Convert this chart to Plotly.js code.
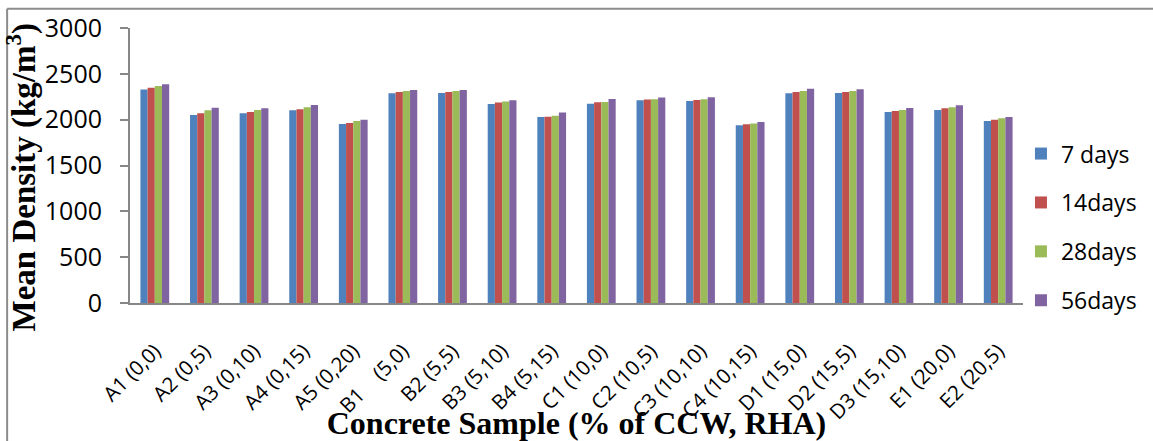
<!DOCTYPE html>
<html>
<head>
<meta charset="utf-8">
<script src="https://cdn.plot.ly/plotly-3.0.1.min.js"></script>
<style>
  html, body { margin: 0; padding: 0; background: #ffffff; }
  #chart { width: 1153px; height: 441px; }
</style>
</head>
<body>
<div id="chart"></div>
<script>
// Concrete samples (% of CCW, RHA)
const samples = [
  "A1 (0,0)", "A2 (0,5)", "A3 (0,10)", "A4 (0,15)", "A5 (0,20)",
  "B1\u00a0\u00a0\u00a0 (5,0)", "B2 (5,5)", "B3 (5,10)", "B4 (5,15)",
  "C1 (10,0)", "C2 (10,5)", "C3 (10,10)", "C4 (10,15)",
  "D1 (15,0)", "D2 (15,5)", "D3 (15,10)", "E1 (20,0)", "E2 (20,5)"
];

// Mean density (kg/m3) at each curing age
const days7  = [2330, 2052, 2070, 2103, 1953, 2289, 2292, 2172, 2030, 2175, 2212, 2205, 1939, 2289, 2292, 2084, 2106, 1986];
const days14 = [2347, 2070, 2084, 2114, 1964, 2303, 2303, 2186, 2033, 2190, 2219, 2215, 1950, 2303, 2303, 2095, 2125, 2000];
const days28 = [2368, 2104, 2106, 2136, 1986, 2314, 2314, 2197, 2044, 2194, 2223, 2223, 1957, 2314, 2314, 2106, 2136, 2015];
const days56 = [2387, 2131, 2125, 2161, 2000, 2325, 2325, 2212, 2077, 2226, 2241, 2245, 1975, 2336, 2332, 2128, 2157, 2030];

const seriesNames = ["7 days", "14days", "28days", "56days"];
const seriesColors = ["#4F81BD", "#C0504D", "#9BBB59", "#8064A2"];
const seriesValues = [days7, days14, days28, days56];

const traces = seriesValues.map((vals, i) => ({
  type: "bar",
  name: seriesNames[i],
  x: samples,
  y: vals,
  legendgroup: "g" + i,
  marker: { color: seriesColors[i], line: { width: 0 } }
}));

const axisGray = "#878787";
const frameGray = "#8c8c8c";

const layout = {
  width: 1153,
  height: 441,
  paper_bgcolor: "#ffffff",
  plot_bgcolor: "#ffffff",
  margin: { l: 130, r: 129, t: 28, b: 138 },
  barmode: "group",
  bargap: 0.42,
  bargroupgap: 0,
  font: { family: "Open Sans, sans-serif", color: "#000000" },
  xaxis: {
    type: "category",
    showline: true,
    linecolor: axisGray,
    linewidth: 2,
    ticks: "",
    showgrid: false,
    zeroline: false,
    tickangle: -45,
    ticklabelstandoff: 26,
    tickfont: { family: "Open Sans, sans-serif", size: 20.5, color: "#000000" },
    title: {
      text: "Concrete Sample (% of CCW, RHA)",
      font: { family: "Liberation Serif, serif", size: 32, color: "#000000", weight: "bold" },
      standoff: 0
    }
  },
  yaxis: {
    range: [0, 3000],
    dtick: 500,
    showline: true,
    linecolor: axisGray,
    linewidth: 2,
    ticks: "outside",
    ticklen: 8,
    tickwidth: 2,
    tickcolor: axisGray,
    ticklabelstandoff: 13,
    showgrid: false,
    zeroline: false,
    tickfont: { family: "Open Sans, sans-serif", size: 25, color: "#000000" }
  },
  // vertical axis caption, set slightly below the plot's middle
  annotations: [
    {
      text: "Mean Density (kg/m<sup>3</sup>)",
      xref: "paper", yref: "paper",
      x: -0.121, y: 0.46,
      xanchor: "center", yanchor: "middle",
      textangle: -90,
      showarrow: false,
      font: { family: "Liberation Serif, serif", size: 33, color: "#000000", weight: "bold" }
    }
  ],
  showlegend: true,
  legend: {
    x: 0.9966,
    xanchor: "left",
    y: 0.276,
    yanchor: "middle",
    traceorder: "grouped",
    tracegroupgap: 16,
    font: { family: "Open Sans, sans-serif", size: 23, color: "#000000" },
    bgcolor: "rgba(0,0,0,0)",
    itemwidth: 30
  },
  shapes: [
    { type: "line", xref: "paper", yref: "paper", x0: -0.1376, x1: 1.15, y0: 1.0703, y1: 1.0703,
      line: { color: frameGray, width: 2 } },
    { type: "line", xref: "paper", yref: "paper", x0: -0.1376, x1: -0.1376, y0: 1.0703, y1: -0.52,
      line: { color: frameGray, width: 2 } }
  ]
};

Plotly.newPlot("chart", traces, layout, { displayModeBar: false, staticPlot: true });
</script>
</body>
</html>
